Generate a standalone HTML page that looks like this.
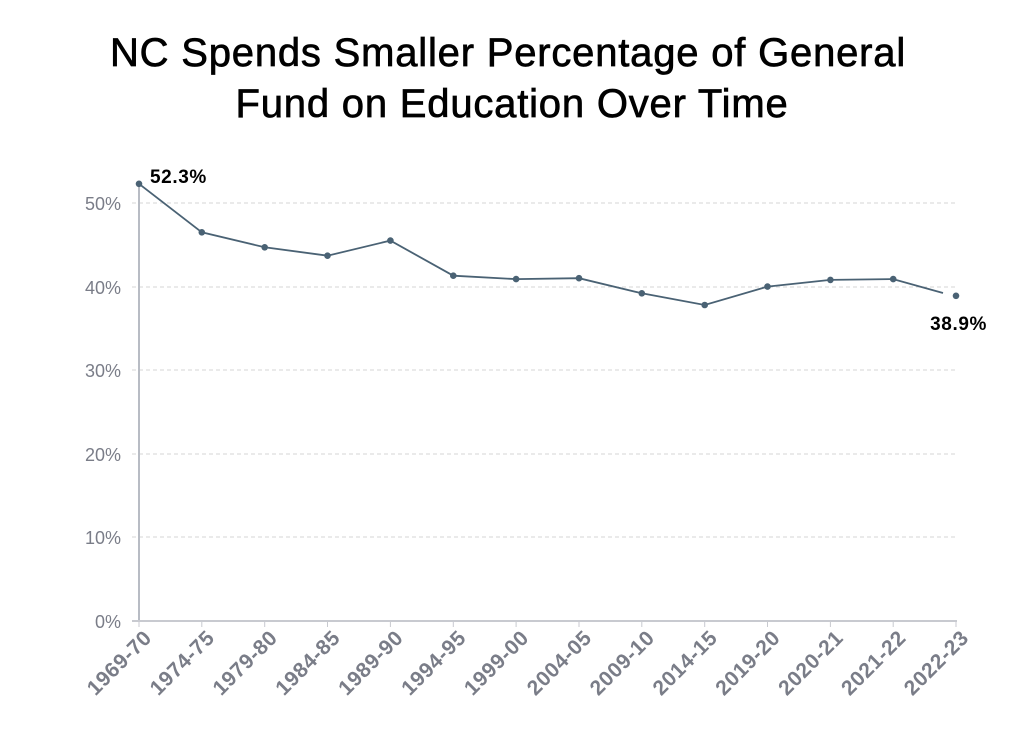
<!DOCTYPE html>
<html><head><meta charset="utf-8"><style>
html,body{margin:0;padding:0;background:#fff;}
svg{display:block;}
</style></head><body>
<svg width="1024" height="734" xmlns="http://www.w3.org/2000/svg" font-family="Liberation Sans, sans-serif">
<g stroke="#000" stroke-width="0.7">
<text x="508" y="66" text-anchor="middle" font-size="40" letter-spacing="0.8" fill="#000">NC Spends Smaller Percentage of General</text>
<text x="512" y="117" text-anchor="middle" font-size="40" letter-spacing="0.8" fill="#000">Fund on Education Over Time</text>
</g>
<g stroke="#d6d6d6" stroke-dasharray="4,3" stroke-width="1">
<line x1="132" y1="203" x2="956" y2="203"/>
<line x1="132" y1="287" x2="956" y2="287"/>
<line x1="132" y1="370" x2="956" y2="370"/>
<line x1="132" y1="454" x2="956" y2="454"/>
<line x1="132" y1="537" x2="956" y2="537"/>
</g>
<line x1="139" y1="182" x2="139" y2="621" stroke="#b8bcc4" stroke-width="2"/>
<line x1="132" y1="621" x2="957" y2="621" stroke="#c8cad0" stroke-width="2"/>
<g stroke="#c8cad0" stroke-width="1">
<line x1="139" y1="621" x2="139" y2="627"/><line x1="201.8" y1="621" x2="201.8" y2="627"/><line x1="264.7" y1="621" x2="264.7" y2="627"/><line x1="327.5" y1="621" x2="327.5" y2="627"/><line x1="390.4" y1="621" x2="390.4" y2="627"/><line x1="453.3" y1="621" x2="453.3" y2="627"/><line x1="516.1" y1="621" x2="516.1" y2="627"/><line x1="579" y1="621" x2="579" y2="627"/><line x1="641.8" y1="621" x2="641.8" y2="627"/><line x1="704.7" y1="621" x2="704.7" y2="627"/><line x1="767.5" y1="621" x2="767.5" y2="627"/><line x1="830.4" y1="621" x2="830.4" y2="627"/><line x1="893.2" y1="621" x2="893.2" y2="627"/><line x1="956" y1="621" x2="956" y2="627"/>
</g>
<g font-size="18" fill="#7a7d88" text-anchor="end">
<text x="121" y="210">50%</text><text x="121" y="294">40%</text><text x="121" y="377">30%</text><text x="121" y="461">20%</text><text x="121" y="544">10%</text><text x="121" y="628">0%</text>
</g>
<g font-size="21" font-weight="bold" fill="#7a7d88" text-anchor="end" letter-spacing="0.6">
<text transform="translate(153,639) rotate(-45)">1969-70</text>
<text transform="translate(215.8,639) rotate(-45)">1974-75</text>
<text transform="translate(278.7,639) rotate(-45)">1979-80</text>
<text transform="translate(341.5,639) rotate(-45)">1984-85</text>
<text transform="translate(404.4,639) rotate(-45)">1989-90</text>
<text transform="translate(467.3,639) rotate(-45)">1994-95</text>
<text transform="translate(530.1,639) rotate(-45)">1999-00</text>
<text transform="translate(593,639) rotate(-45)">2004-05</text>
<text transform="translate(655.8,639) rotate(-45)">2009-10</text>
<text transform="translate(718.7,639) rotate(-45)">2014-15</text>
<text transform="translate(781.5,639) rotate(-45)">2019-20</text>
<text transform="translate(844.4,639) rotate(-45)">2020-21</text>
<text transform="translate(907.2,639) rotate(-45)">2021-22</text>
<text transform="translate(970,639) rotate(-45)">2022-23</text>
</g>
<polyline fill="none" stroke="#4a6274" stroke-width="1.8" points="139,183.8 201.8,232.3 264.7,247.3 327.5,255.7 390.4,240.6 453.3,275.7 516.1,279.1 579,278.2 641.8,293.3 704.7,305 767.5,286.6 830.4,279.9 893.2,279.1 943,293"/>
<g fill="#4a6274">
<circle cx="139" cy="183.8" r="3.3"/><circle cx="201.8" cy="232.3" r="3.3"/><circle cx="264.7" cy="247.3" r="3.3"/><circle cx="327.5" cy="255.7" r="3.3"/><circle cx="390.4" cy="240.6" r="3.3"/><circle cx="453.3" cy="275.7" r="3.3"/><circle cx="516.1" cy="279.1" r="3.3"/><circle cx="579" cy="278.2" r="3.3"/><circle cx="641.8" cy="293.3" r="3.3"/><circle cx="704.7" cy="305" r="3.3"/><circle cx="767.5" cy="286.6" r="3.3"/><circle cx="830.4" cy="279.9" r="3.3"/><circle cx="893.2" cy="279.1" r="3.3"/><circle cx="956" cy="295.8" r="3.3"/>
</g>
<text x="150" y="183" font-size="19" font-weight="bold" fill="#000" letter-spacing="0.6">52.3%</text>
<text x="987" y="330" font-size="19" font-weight="bold" fill="#000" text-anchor="end" letter-spacing="0.6">38.9%</text>
</svg>
</body></html>
